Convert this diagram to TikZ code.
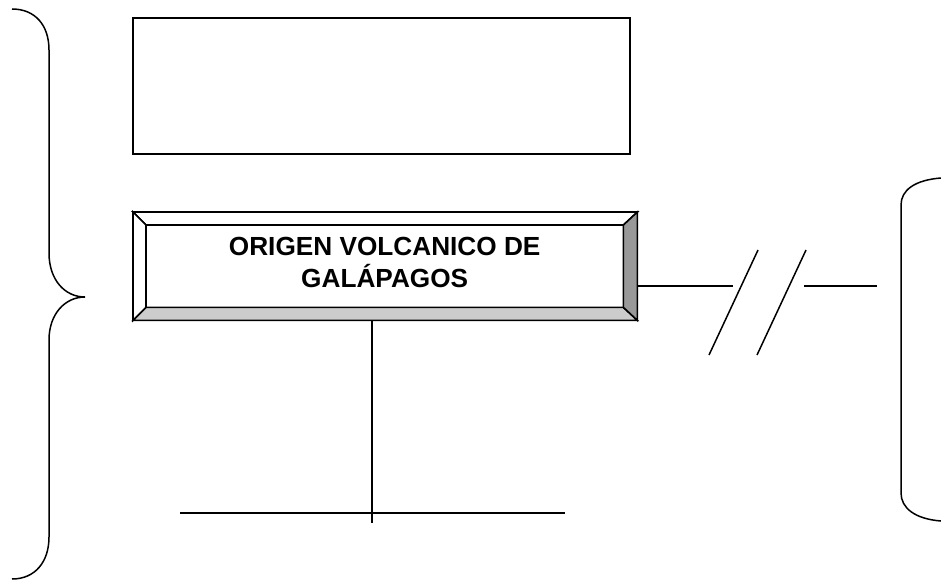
\documentclass[tikz,border=0pt]{standalone}
\usepackage{fontspec}
\setmainfont{Liberation Sans}
\begin{document}
\begin{tikzpicture}[x=1pt,y=-1pt,
  thin line/.style={line width=1.5pt, black},
  box line/.style={line width=2pt, black},
  bevel/.style={line width=1.6pt, draw=black, line join=miter}]
\useasboundingbox (0,0) rectangle (941,583);
% top empty box
\node[box line, draw, minimum width=497pt, minimum height=135.4pt, inner sep=0pt, anchor=north west] (topbox) at (132.3,17.3) {};
% bevelled box
\node[minimum width=504pt, minimum height=108pt, inner sep=0pt, anchor=north west] (outer) at (133,212) {};
\node[minimum width=477pt, minimum height=82pt, inner sep=0pt, anchor=north west] (main) at (146,225) {};
\fill[white] (outer.north west) rectangle (outer.south east);
\filldraw[bevel, fill=white] (outer.north west) -- (outer.north east) -- (main.north east) -- (main.north west) -- cycle;
\filldraw[bevel, fill=white] (outer.north west) -- (main.north west) -- (main.south west) -- (outer.south west) -- cycle;
\filldraw[bevel, fill=black!20] (outer.south west) -- (main.south west) -- (main.south east) -- (outer.south east) -- cycle;
\filldraw[bevel, fill=black!40] (outer.north east) -- (outer.south east) -- (main.south east) -- (main.north east) -- cycle;
\node[align=center, font=\bfseries\fontsize{26.2}{32}\selectfont] (label) at ([yshift=4pt]main.center) {ORIGEN VOLCANICO DE\\GAL\'APAGOS};
% left brace
\draw[thin line] (12,9) .. controls (35,9) and (49,25) .. (49,50) -- (49,253)
  .. controls (49,280) and (65,297) .. (85,297)
  .. controls (65,297) and (49,314) .. (49,340) -- (49,537)
  .. controls (49,562) and (35,579) .. (12,579);
% right bracket
\draw[thin line] (941,178) .. controls (915,180) and (901,190) .. (901,205) -- (901,493)
  .. controls (901,508) and (915,519) .. (941,521);
% connector with break marks
\coordinate (b1) at (733,286);
\coordinate (b2) at (804,286);
\coordinate (rb) at (877,286);
\draw[thin line] (outer.east |- b1) -- (b1);
\draw[thin line] (b2) -- (rb);
\coordinate (s1a) at (709,355); \coordinate (s1b) at (758,250);
\coordinate (s2a) at (757,355); \coordinate (s2b) at (806,250);
\draw[thin line] (s1a) -- (s1b);
\draw[thin line] (s2a) -- (s2b);
% vertical connector and horizontal line
\coordinate (vb) at (372,523);
\coordinate (hl) at (180,513);
\coordinate (hr) at (565,513);
\draw[thin line] (outer.south -| vb) -- (vb);
\draw[thin line] (hl) -- (hr);
\end{tikzpicture}
\end{document}
